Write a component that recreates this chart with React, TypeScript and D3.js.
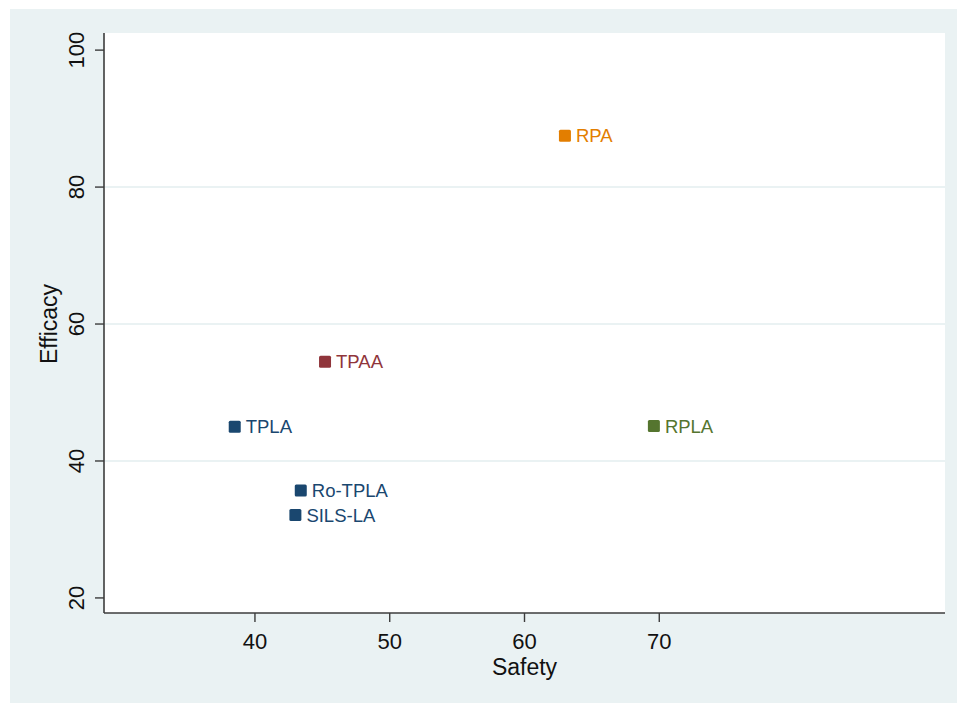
import React from 'react';
import * as d3 from 'd3';

const names = ['RPA', 'RPLA', 'TPAA', 'TPLA', 'Ro-TPLA', 'SILS-LA'];
const safety = [63.0, 69.6, 45.2, 38.5, 43.4, 43.0];
const efficacy = [87.5, 45.1, 54.5, 45.0, 35.7, 32.1];
const colors = ['#e37e00', '#55752f', '#90353b', '#1a476f', '#1a476f', '#1a476f'];
const xTicks = [40, 50, 60, 70];
const yTicks = [20, 40, 60, 80, 100];
const yGrid = [40, 60, 80];

const W = 957;
const H = 703;
const plot = { left: 104, right: 945, top: 33, bottom: 613 };
const font = 'Arial, "Liberation Sans", sans-serif';
const axisColor = '#3c3c3c';

const App: React.FC = () => {
  // scales calibrated from the reference tick positions
  const x = d3.scaleLinear().domain([28.8, 91.2]).range([plot.left, plot.right]);
  const y = d3.scaleLinear().domain([17.8, 102.5]).range([plot.bottom, plot.top]);
  const size = 12;

  return (
    <svg width={W} height={H} style={{ position: 'absolute', left: 0, top: 0 }} fontFamily={font}>
      <rect x={0} y={0} width={W} height={H} fill="#ffffff" />
      <rect x={10} y={9} width={W - 10} height={H - 9} fill="#eaf2f3" />
      <rect x={plot.left} y={plot.top} width={plot.right - plot.left} height={plot.bottom - plot.top} fill="#ffffff" />

      {yGrid.map(t => (
        <line key={'g' + t} x1={plot.left} x2={plot.right} y1={y(t)} y2={y(t)} stroke="#eaf2f3" strokeWidth={2} />
      ))}

      {/* axes */}
      <line x1={plot.left} x2={plot.left} y1={plot.top} y2={plot.bottom} stroke={axisColor} strokeWidth={1.6} />
      <line x1={plot.left} x2={plot.right} y1={plot.bottom} y2={plot.bottom} stroke={axisColor} strokeWidth={1.6} />

      {yTicks.map(t => (
        <g key={'y' + t}>
          <line x1={plot.left - 9} x2={plot.left} y1={y(t)} y2={y(t)} stroke={axisColor} strokeWidth={1.4} />
          <text transform={`translate(84,${y(t)}) rotate(-90)`} textAnchor="middle" fontSize={22} fill="#111">{t}</text>
        </g>
      ))}
      {xTicks.map(t => (
        <g key={'x' + t}>
          <line x1={x(t)} x2={x(t)} y1={plot.bottom} y2={plot.bottom + 9} stroke={axisColor} strokeWidth={1.4} />
          <text x={x(t)} y={649} textAnchor="middle" fontSize={22} fill="#111">{t}</text>
        </g>
      ))}

      <text x={x(60)} y={675} textAnchor="middle" fontSize={23} fill="#111">Safety</text>
      <text transform={`translate(57,${y(60)}) rotate(-90)`} textAnchor="middle" fontSize={23} fill="#111">Efficacy</text>

      {names.map((n, i) => (
        <g key={n}>
          <rect
            x={x(safety[i]) - size / 2}
            y={y(efficacy[i]) - size / 2}
            width={size}
            height={size}
            rx={1.5}
            fill={colors[i]}
          />
          <text
            x={x(safety[i]) + 11}
            y={y(efficacy[i])}
            dy="0.36em"
            fontSize={18.5}
            fill={colors[i]}
          >
            {n}
          </text>
        </g>
      ))}
    </svg>
  );
};

export default App;
